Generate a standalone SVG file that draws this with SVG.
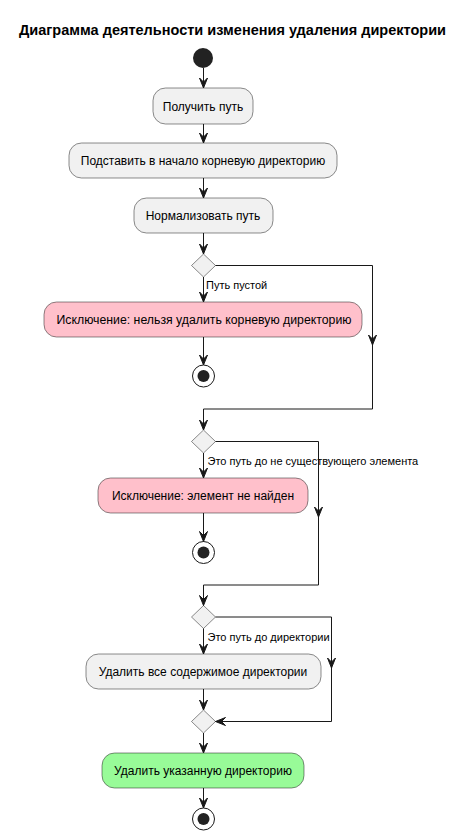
<svg xmlns="http://www.w3.org/2000/svg" width="467" height="840" viewBox="0 0 467 840">
<style>
.t{font-family:"Liberation Sans",Arial,sans-serif;fill:#000}
.a{fill:#F1F1F1;stroke:#181818;stroke-width:0.5}
.p{fill:#FFC0CB;stroke:#181818;stroke-width:0.5}
.g{fill:#98FB98;stroke:#181818;stroke-width:0.5}
.d{fill:#F1F1F1;stroke:#181818;stroke-width:0.5}
.l{fill:none;stroke:#181818;stroke-width:1}
.h{fill:#181818;stroke:#181818;stroke-width:1}
</style>
<defs>
<polygon id="ad" points="-4,-10 0,0 4,-10 0,-6"/>
<g id="stop"><circle r="11" fill="none" stroke="#181818" stroke-width="1"/><circle r="6" fill="#222222"/></g>
</defs>
<rect width="467" height="840" fill="#FFFFFF"/>
<text class="t" x="232.5" y="35" font-size="14" font-weight="bold" text-anchor="middle" textLength="427" lengthAdjust="spacingAndGlyphs">Диаграмма деятельности изменения удаления директории</text>

<g id="start"><circle cx="203" cy="58" r="10" fill="#222222"/></g>
<g id="n1"><rect class="a" x="153" y="88" width="100" height="36" rx="12.5"/><text class="t" x="203" y="111" font-size="12" text-anchor="middle">Получить путь</text></g>
<g id="n2"><rect class="a" x="69" y="143" width="268" height="35" rx="12.5"/><text class="t" x="203" y="165" font-size="12" text-anchor="middle">Подставить в начало корневую директорию</text></g>
<g id="n3"><rect class="a" x="134" y="198" width="139" height="35" rx="12.5"/><text class="t" x="203" y="220" font-size="12" text-anchor="middle">Нормализовать путь</text></g>
<g id="d1"><polygon class="d" points="191.5,265.5 203.5,254 215.5,265.5 203.5,277"/></g>
<g id="e1"><rect class="p" x="44" y="302" width="318" height="35" rx="12.5"/><text class="t" x="204" y="324" font-size="12" text-anchor="middle" textLength="295" lengthAdjust="spacingAndGlyphs">Исключение: нельзя удалить корневую директорию</text></g>
<g id="stop1"><use href="#stop" x="203.5" y="376"/></g>
<g id="d2"><polygon class="d" points="191.5,441.5 203.5,430 215.5,441.5 203.5,453"/></g>
<g id="e2"><rect class="p" x="98" y="478" width="210" height="35" rx="12.5"/><text class="t" x="203" y="500" font-size="12" text-anchor="middle">Исключение: элемент не найден</text></g>
<g id="stop2"><use href="#stop" x="203.5" y="552.5"/></g>
<g id="d3"><polygon class="d" points="191.5,617 203.5,605.5 215.5,617 203.5,628.5"/></g>
<g id="n4"><rect class="a" x="86" y="654" width="235" height="35" rx="12.5"/><text class="t" x="203" y="676" font-size="12" text-anchor="middle">Удалить все содержимое директории</text></g>
<g id="m3"><polygon class="d" points="191.5,721.5 203.5,710 215.5,721.5 203.5,733"/></g>
<g id="n5"><rect class="g" x="102" y="753" width="202" height="35" rx="12.5"/><text class="t" x="203" y="775" font-size="12" text-anchor="middle">Удалить указанную директорию</text></g>
<g id="stop3"><use href="#stop" x="203.5" y="819"/></g>

<g id="connectors">
<path class="l" d="M203.5,68 V88 M203.5,124 V143 M203.5,178 V198 M203.5,233 V254"/>
<use class="h" href="#ad" x="203.5" y="88"/>
<use class="h" href="#ad" x="203.5" y="143"/>
<use class="h" href="#ad" x="203.5" y="198"/>
<use class="h" href="#ad" x="203.5" y="254"/>
<path class="l" d="M203.5,277 V302 M203.5,337 V365"/>
<use class="h" href="#ad" x="203.5" y="302"/>
<use class="h" href="#ad" x="203.5" y="365"/>
<text class="t" x="206" y="289" font-size="11">Путь пустой</text>
<path class="l" d="M215.5,265.5 H372.5 V409 H203.5 V430"/>
<use class="h" href="#ad" x="372.5" y="345"/>
<use class="h" href="#ad" x="203.5" y="430"/>
<path class="l" d="M203.5,453 V478 M203.5,513 V541.5"/>
<use class="h" href="#ad" x="203.5" y="478"/>
<use class="h" href="#ad" x="203.5" y="541.5"/>
<text class="t" x="207.5" y="465" font-size="11">Это путь до не существующего элемента</text>
<path class="l" d="M215.5,441.5 H318.5 V585 H203.5 V605.5"/>
<use class="h" href="#ad" x="318.5" y="517"/>
<use class="h" href="#ad" x="203.5" y="605.5"/>
<path class="l" d="M203.5,628.5 V654 M203.5,689 V710 M203.5,733 V753 M203.5,788 V808"/>
<use class="h" href="#ad" x="203.5" y="654"/>
<use class="h" href="#ad" x="203.5" y="710"/>
<use class="h" href="#ad" x="203.5" y="753"/>
<use class="h" href="#ad" x="203.5" y="808"/>
<text class="t" x="207.5" y="641" font-size="11">Это путь до директории</text>
<path class="l" d="M215.5,617 H331.5 V721.5 H215.5"/>
<use class="h" href="#ad" x="331.5" y="668"/>
<use class="h" href="#ad" transform="translate(215.5,721.5) rotate(90)"/>
</g>
</svg>
